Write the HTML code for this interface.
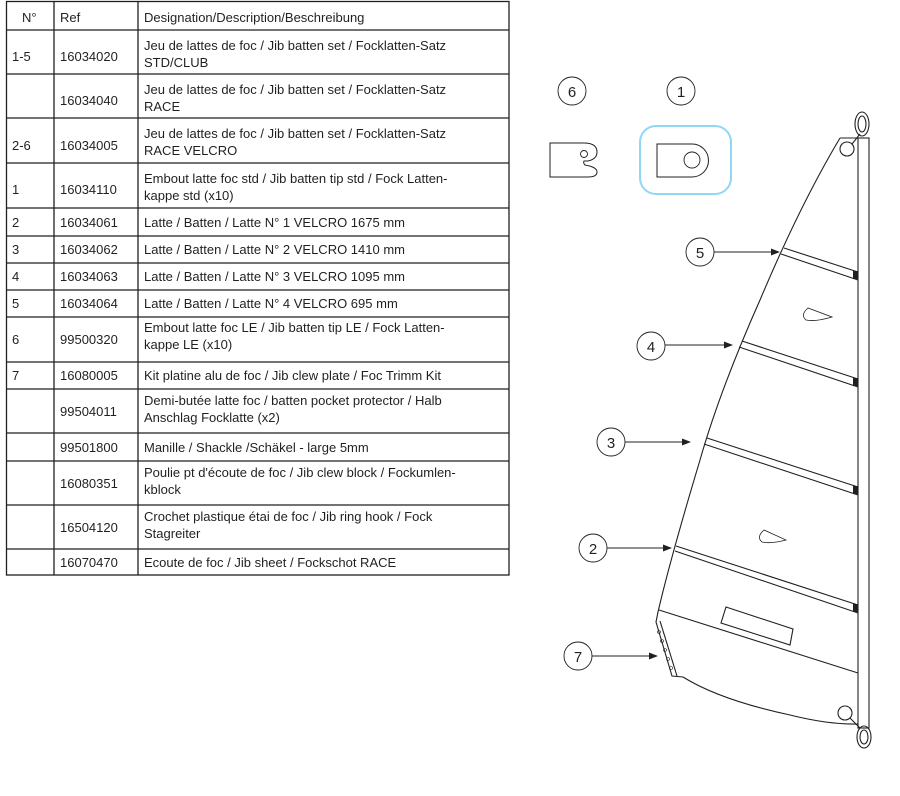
<!DOCTYPE html>
<html><head><meta charset="utf-8"><style>
html,body{margin:0;padding:0;background:#fff;}
svg{display:block;}
text{font-family:"Liberation Sans",Arial,sans-serif;font-size:13px;fill:#231f20;}
.n{font-size:15px;}
</style></head><body>
<svg width="900" height="796" viewBox="0 0 900 796" xmlns="http://www.w3.org/2000/svg">
<g stroke="#231f20" stroke-width="1.3" fill="none">
<rect x="6.5" y="1.5" width="502.5" height="573.5"/>
<line x1="54" y1="1" x2="54" y2="575"/>
<line x1="138" y1="1" x2="138" y2="575"/>
<line x1="6" y1="30" x2="509" y2="30"/>
<line x1="6" y1="74" x2="509" y2="74"/>
<line x1="6" y1="118" x2="509" y2="118"/>
<line x1="6" y1="163" x2="509" y2="163"/>
<line x1="6" y1="208" x2="509" y2="208"/>
<line x1="6" y1="236" x2="509" y2="236"/>
<line x1="6" y1="263" x2="509" y2="263"/>
<line x1="6" y1="290" x2="509" y2="290"/>
<line x1="6" y1="317" x2="509" y2="317"/>
<line x1="6" y1="362" x2="509" y2="362"/>
<line x1="6" y1="389" x2="509" y2="389"/>
<line x1="6" y1="433" x2="509" y2="433"/>
<line x1="6" y1="461" x2="509" y2="461"/>
<line x1="6" y1="505" x2="509" y2="505"/>
<line x1="6" y1="549" x2="509" y2="549"/>
</g>
<text x="22" y="22">N°</text><text x="60" y="22">Ref</text><text x="144" y="22">Designation/Description/Beschreibung</text>

<text x="12" y="61">1-5</text><text x="60" y="61">16034020</text>
<text x="144" y="50">Jeu de lattes de foc / Jib batten set / Focklatten-Satz</text><text x="144" y="67">STD/CLUB</text>

<text x="60" y="105">16034040</text>
<text x="144" y="94">Jeu de lattes de foc / Jib batten set / Focklatten-Satz</text><text x="144" y="111">RACE</text>

<text x="12" y="150">2-6</text><text x="60" y="150">16034005</text>
<text x="144" y="138">Jeu de lattes de foc / Jib batten set / Focklatten-Satz</text><text x="144" y="155">RACE VELCRO</text>

<text x="12" y="194">1</text><text x="60" y="194">16034110</text>
<text x="144" y="183">Embout latte foc std / Jib batten tip std / Fock Latten-</text><text x="144" y="200">kappe std (x10)</text>

<text x="12" y="227">2</text><text x="60" y="227">16034061</text><text x="144" y="227">Latte / Batten / Latte N° 1 VELCRO 1675 mm</text>
<text x="12" y="254">3</text><text x="60" y="254">16034062</text><text x="144" y="254">Latte / Batten / Latte N° 2 VELCRO 1410 mm</text>
<text x="12" y="281">4</text><text x="60" y="281">16034063</text><text x="144" y="281">Latte / Batten / Latte N° 3 VELCRO 1095 mm</text>
<text x="12" y="308">5</text><text x="60" y="308">16034064</text><text x="144" y="308">Latte / Batten / Latte N° 4 VELCRO 695 mm</text>

<text x="12" y="344">6</text><text x="60" y="344">99500320</text>
<text x="144" y="332">Embout latte foc LE / Jib batten tip LE / Fock Latten-</text><text x="144" y="349">kappe LE (x10)</text>

<text x="12" y="380">7</text><text x="60" y="380">16080005</text><text x="144" y="380">Kit platine alu de foc / Jib clew plate  / Foc Trimm Kit</text>

<text x="60" y="416">99504011</text>
<text x="144" y="405">Demi-butée latte foc / batten pocket protector / Halb</text><text x="144" y="422">Anschlag Focklatte (x2)</text>

<text x="60" y="452">99501800</text><text x="144" y="452">Manille / Shackle /Schäkel - large 5mm</text>

<text x="60" y="488">16080351</text>
<text x="144" y="477">Poulie pt d'écoute de foc / Jib clew block / Fockumlen-</text><text x="144" y="494">kblock</text>

<text x="60" y="532">16504120</text>
<text x="144" y="521">Crochet plastique étai de foc / Jib ring hook / Fock</text><text x="144" y="538">Stagreiter</text>

<text x="60" y="567">16070470</text><text x="144" y="567">Ecoute de foc / Jib sheet / Fockschot RACE</text>

<g stroke="#231f20" stroke-width="0.9" fill="#fff">
<circle cx="572" cy="91" r="14"/>
<circle cx="681" cy="91" r="14"/>
<circle cx="700" cy="252" r="14"/>
<circle cx="651" cy="346" r="14"/>
<circle cx="611" cy="442" r="14"/>
<circle cx="593" cy="548" r="14"/>
<circle cx="578" cy="656" r="14"/>
</g>
<g text-anchor="middle">
<text class="n" x="572" y="97">6</text>
<text class="n" x="681" y="97">1</text>
<text class="n" x="700" y="258">5</text>
<text class="n" x="651" y="352">4</text>
<text class="n" x="611" y="448">3</text>
<text class="n" x="593" y="554">2</text>
<text class="n" x="578" y="662">7</text>
</g>
<g stroke="#231f20" stroke-width="0.9">
<line x1="714" y1="252" x2="772" y2="252"/>
<line x1="665" y1="345" x2="725" y2="345"/>
<line x1="625" y1="442" x2="683" y2="442"/>
<line x1="607" y1="548" x2="664" y2="548"/>
<line x1="592" y1="656" x2="650" y2="656"/>
</g>
<g fill="#231f20">
<polygon points="780,252 771,248.5 771,255.5"/>
<polygon points="733,345 724,341.5 724,348.5"/>
<polygon points="691,442 682,438.5 682,445.5"/>
<polygon points="672,548 663,544.5 663,551.5"/>
<polygon points="658,656 649,652.5 649,659.5"/>
</g>

<path d="M550,143 L584,143 Q597,143 597,152 Q597,159 588,161 L584,161 Q583,163 585,165 Q597,167 597,172 Q597,177 588,177 L550,177 Z" fill="#fff" stroke="#231f20" stroke-width="1"/>
<circle cx="584" cy="154" r="3.5" fill="none" stroke="#231f20" stroke-width="0.9"/>
<rect x="640" y="126" width="91" height="68" rx="16" fill="none" stroke="#8fd8f5" stroke-width="2"/>
<path d="M657,144 L692,144 A16,16 0 0 1 692,177 L657,177 Z" fill="none" stroke="#231f20" stroke-width="1"/>
<circle cx="692" cy="160" r="8" fill="none" stroke="#231f20" stroke-width="0.9"/>

<g stroke="#231f20" stroke-width="1.1" fill="none">
<path d="M840,138 Q800,205 760,300 Q720,390 700,460 Q670,560 658,612 L656,622 L672,676 L683,677 Q720,700 790,715 Q830,725 860,724"/>
<path d="M840,138 L858,138"/>
<rect x="858" y="138" width="11" height="590" fill="#fff"/>
<ellipse cx="862" cy="124" rx="7" ry="12"/>
<ellipse cx="862" cy="124" rx="4" ry="8"/>
<circle cx="847" cy="149" r="7" fill="#fff"/>
<line x1="852" y1="144" x2="860" y2="134"/>
<ellipse cx="864" cy="737" rx="7" ry="11"/>
<ellipse cx="864" cy="737" rx="4" ry="7"/>
<circle cx="845" cy="713" r="7" fill="#fff"/>
<line x1="850" y1="718" x2="860" y2="728"/>
<line x1="784" y1="248" x2="858" y2="272"/>
<line x1="781" y1="254" x2="858" y2="280"/>
<line x1="742" y1="341" x2="858" y2="379"/>
<line x1="739" y1="347" x2="858" y2="387"/>
<line x1="707" y1="438" x2="858" y2="487"/>
<line x1="704" y1="444" x2="858" y2="495"/>
<line x1="676" y1="546" x2="858" y2="605"/>
<line x1="675" y1="551" x2="858" y2="613"/>
<line x1="659" y1="610" x2="858" y2="673"/>
<polygon points="726,607 793,629 790,645 721,623"/>
<path d="M808,308 Q800,315 806,320 Q815,322 832,317 Z" stroke-width="0.8"/>
<path d="M764,530 Q756,537 762,542 Q771,544 786,540 Z" stroke-width="0.8"/>
<path d="M660,621 L677,676"/>
</g>
<g fill="#231f20">
<rect x="853" y="271" width="5" height="8"/>
<rect x="853" y="378" width="5" height="8"/>
<rect x="853" y="486" width="5" height="8"/>
<rect x="853" y="604" width="5" height="8"/>
</g>
<g fill="none" stroke="#231f20" stroke-width="0.6">
<circle cx="659" cy="632" r="1.5"/><circle cx="662" cy="641" r="1.5"/><circle cx="665" cy="650" r="1.5"/><circle cx="668" cy="659" r="1.5"/><circle cx="671" cy="668" r="1.5"/>
</g>
</svg>
</body></html>
